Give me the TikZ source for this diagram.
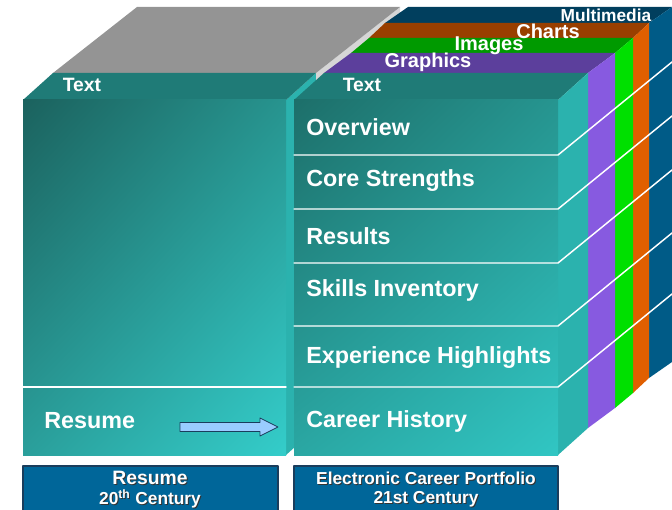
\documentclass[tikz,border=0pt]{standalone}
\usepackage{fontspec}
\usetikzlibrary{shadings}
\setmainfont{Liberation Sans}
\definecolor{tealtop}{HTML}{1F7B77}
\definecolor{tealside}{HTML}{2BB2AE}
\definecolor{greytop}{HTML}{949494}
\definecolor{greystrip}{HTML}{D6D6D6}
\definecolor{grtop}{HTML}{5C3F9C}
\definecolor{grside}{HTML}{875AE0}
\definecolor{imtop}{HTML}{009A00}
\definecolor{imside}{HTML}{00E000}
\definecolor{chtop}{HTML}{993F00}
\definecolor{chside}{HTML}{E05F00}
\definecolor{mmtop}{HTML}{013F5E}
\definecolor{mmside}{HTML}{005B87}
\definecolor{capfill}{HTML}{006699}
\definecolor{capedge}{HTML}{1A3D5C}
\definecolor{arrfill}{HTML}{99CCFF}
\definecolor{lfUL}{HTML}{1B625E}
\definecolor{lfUR}{HTML}{27948F}
\definecolor{lfLL}{HTML}{2A9F9B}
\definecolor{lfLR}{HTML}{34CDCA}
\definecolor{rfUL}{HTML}{1D6F6A}
\definecolor{rfUR}{HTML}{269590}
\definecolor{rfLL}{HTML}{2AA7A3}
\definecolor{rfLR}{HTML}{31C6C3}
\begin{document}
\begin{tikzpicture}[x=0.75pt, y=-0.75pt, line join = round, line cap = round,
		rowlbl/.style = {anchor=west, inner sep=0pt, text=white, font=\bfseries\fontsize{17.5}{20}\selectfont},
		laylbl/.style = {inner sep=0pt, text=white, font=\bfseries\fontsize{15}{18}\selectfont},
		caplbl/.style = {inner sep=0pt, text=white, font=\bfseries\fontsize{13}{15}\selectfont},
		capshadow/.style = {caplbl, text=black!80},
		sep/.style = {draw=white, line width=1.1pt}]
	\useasboundingbox (0,0) rectangle (672,510);
	% left box
	\fill[tealside] (286,100) -- (316,73) -- (316,428) -- (286,455) -- cycle;
	\fill[greystrip] (316,73) -- (400,7) -- (400,362) -- (316,428) -- cycle;
	\fill[greytop] (53,73) -- (316,73) -- (400,7) -- (137,7) -- cycle;
	\fill[tealtop] (23,100) -- (286,100) -- (316,73) -- (53,73) -- cycle;
	\shade[upper left=lfUL, upper right=lfUR, lower left=lfLL, lower right=lfLR] (23,100) rectangle (286,455);
	\draw[sep] (23,387) -- (286,387);
	% right stack, back to front
	\fill[mmtop] (385,23) -- (649,23) -- (672,7) -- (408,7) -- cycle;
	\fill[mmside] (649,23) -- (672,7) -- (672,362) -- (649,378) -- cycle;
	\fill[chtop] (369,38) -- (633,38) -- (649,23) -- (385,23) -- cycle;
	\fill[chside] (633,38) -- (649,23) -- (649,378) -- (633,393) -- cycle;
	\fill[imtop] (351,53) -- (615,53) -- (633,38) -- (369,38) -- cycle;
	\fill[imside] (615,53) -- (633,38) -- (633,393) -- (615,408) -- cycle;
	\fill[grtop] (324,73) -- (588,73) -- (615,53) -- (351,53) -- cycle;
	\fill[grside] (588,73) -- (615,53) -- (615,408) -- (588,428) -- cycle;
	\fill[tealtop] (294,100) -- (558,100) -- (588,73) -- (324,73) -- cycle;
	\fill[tealside] (558,100) -- (588,73) -- (588,428) -- (558,455) -- cycle;
	\shade[upper left=rfUL, upper right=rfUR, lower left=rfLL, lower right=rfLR] (294,100) rectangle (558,455);
	\foreach \y in {155,209,263,326,387}
		\draw[sep] (294,\y) -- (558,\y) -- ++(114,-93);
	% labels on the tops
	\path (82,85) node[laylbl, font=\bfseries\fontsize{14.5}{17}\selectfont] (ltext) {Text}
		(362,85) node[laylbl, font=\bfseries\fontsize{14.5}{17}\selectfont] (rtext) {Text}
		(428,62) node[laylbl] (graphics) {Graphics}
		(489,46) node[laylbl] (images) {Images}
		(548,31) node[laylbl] (charts) {Charts}
		(606,15) node[laylbl, font=\bfseries\fontsize{13}{16}\selectfont] (multimedia) {Multimedia};
	% rows
	\path (306,127) node[rowlbl] (overview) {Overview}
		(306,181) node[rowlbl] (core) {Core Strengths}
		(306,236) node[rowlbl] (results) {Results}
		(306,290) node[rowlbl] (skills) {Skills Inventory}
		(306,358) node[rowlbl] (experience) {Experience Highlights}
		(306,421) node[rowlbl] (career) {Career History}
		(44,421) node[rowlbl] (resume) {Resume};
	\coordinate (arrS) at (180,427);
	\coordinate (arrE) at (278,427);
	\filldraw[fill=arrfill, draw=capedge, line width=0.6pt] (arrS) ++(0,-4.5) -- ++(80,0) -- ++(0,-4.5) -- (arrE)
		-- ++(-18,9) -- ++(0,-4.5) -- ++(-80,0) -- cycle;
	% captions
	\filldraw[fill=capfill, draw=capedge, line width=0.8pt] (23,466) rectangle (278,520);
	\filldraw[fill=capfill, draw=capedge, line width=0.8pt] (294,466) rectangle (558,520);
	\path (151,479) node[capshadow, font=\bfseries\fontsize{14.5}{16}\selectfont] {Resume}
		(151,500) node[capshadow] {20\textsuperscript{th} Century}
		(427,479) node[capshadow] {Electronic Career Portfolio}
		(427,500) node[capshadow] {21st Century};
	\path (150,478) node[caplbl, font=\bfseries\fontsize{14.5}{16}\selectfont] (oldcap) {Resume}
		(150,499) node[caplbl] (oldcent) {20\textsuperscript{th} Century}
		(426,478) node[caplbl] (newcap) {Electronic Career Portfolio}
		(426,499) node[caplbl] (newcent) {21st Century};
\end{tikzpicture}
\end{document}
